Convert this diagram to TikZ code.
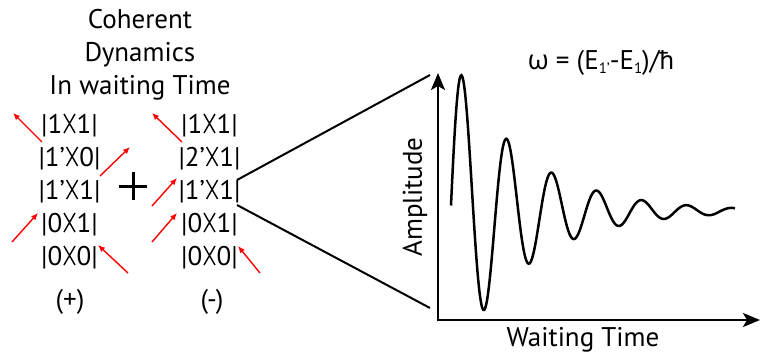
\documentclass[tikz,border=0pt]{standalone}
\usepackage{fontspec}
\setmainfont{PT Sans}
\newfontfamily\grkfont{Open Sans}
\usetikzlibrary{arrows.meta}
\newcommand\kbx{\kern1pt\tikz[x=1pt,y=1pt,baseline=0pt]\draw[line width=1.4pt] (0,19)--(5.5,9.5)--(0,0) (11,19)--(5.5,9.5)--(11,0);\kern1pt}
\newcommand\kb[2]{|#1\kbx#2|}
\begin{document}
\begin{tikzpicture}[x=1pt,y=-1pt,
  lbl/.style={font=\fontsize{27}{33}\selectfont, inner sep=0pt},
  ketrow/.style={font=\fontsize{27}{27}\selectfont, inner sep=0pt, anchor=base},
  redarrow/.style={red, line width=1.4pt, -{Latex[length=7pt,width=6pt]}},
  axis/.style={line width=2.5pt, {Stealth[length=17pt,width=14pt,inset=4pt]}-{Stealth[length=17pt,width=14pt,inset=4pt]}},
  cone/.style={line width=2pt},
  wave/.style={line width=2.5pt}]
\useasboundingbox (0,0) rectangle (761,362);

% title
\node[lbl, align=center] (title) at (140,55) {Coherent\\Dynamics\\In waiting Time};

% left column (+)
\node[ketrow] (l1) at (69.5,133) {\kb{1}{1}};
\node[ketrow] (l2) at (69.5,166) {\kb{1’}{0}};
\node[ketrow] (l3) at (69.5,199) {\kb{1’}{1}};
\node[ketrow] (l4) at (69.5,232) {\kb{0}{1}};
\node[ketrow] (l5) at (69.5,265) {\kb{0}{0}};
\node[lbl] (plus) at (70,302) {(+)};

% right column (-)
\node[ketrow] (r1) at (209.5,133) {\kb{1}{1}};
\node[ketrow] (r2) at (209.5,166) {\kb{2’}{1}};
\node[ketrow] (r3) at (209.5,199) {\kb{1’}{1}};
\node[ketrow] (r4) at (209.5,232) {\kb{0}{1}};
\node[ketrow] (r5) at (209.5,265) {\kb{0}{0}};
\node[lbl] (minus) at (212,302) {(-)};

% big plus
\draw[line width=3pt] (119,186) -- (147,186) (133,172) -- (133,200);

% red arrows, left column
\coordinate (la1s) at (42,142);  \coordinate (la1e) at (13,113);
\coordinate (la2s) at (100,176); \coordinate (la2e) at (130,147);
\coordinate (la3s) at (12,242);  \coordinate (la3e) at (38,213);
\coordinate (la4s) at (128,273); \coordinate (la4e) at (98,245);
\draw[redarrow] (la1s) -- (la1e);
\draw[redarrow] (la2s) -- (la2e);
\draw[redarrow] (la3s) -- (la3e);
\draw[redarrow] (la4s) -- (la4e);

% red arrows, right column
\coordinate (ra1s) at (182,142); \coordinate (ra1e) at (152,113);
\coordinate (ra2s) at (152,206); \coordinate (ra2e) at (177,178);
\coordinate (ra3s) at (152,242); \coordinate (ra3e) at (177,213);
\coordinate (ra4s) at (260,273); \coordinate (ra4e) at (238,246);
\draw[redarrow] (ra1s) -- (ra1e);
\draw[redarrow] (ra2s) -- (ra2e);
\draw[redarrow] (ra3s) -- (ra3e);
\draw[redarrow] (ra4s) -- (ra4e);

% cone
\coordinate (cv1) at (237,180); \coordinate (cv2) at (237,205);
\coordinate (ct) at (430,75);   \coordinate (cb) at (430,308);
\draw[cone] (cv1) -- (ct);
\draw[cone] (cv2) -- (cb);

% axes
\coordinate (O) at (438,320);
\coordinate (ytop) at (438,73);
\coordinate (xend) at (760,320);
\draw[axis] (ytop) -- (O) -- (xend);

% wave
\draw[wave] plot[domain=451:735, samples=300, smooth] (\x, {211 - 137*exp(-0.014*(\x-461))*sin(8*(\x-450.75))});

% labels
\node[lbl, rotate=90] (amp) at (415,197) {Amplitude};
\node[lbl] (wt) at (583,340) {Waiting Time};
\node[lbl] (omega) at (601,63) {{\grkfont ω} = (E\raisebox{-4pt}{\fontsize{15}{15}\selectfont 1’}-E\raisebox{-4pt}{\fontsize{15}{15}\selectfont 1})/ħ};
\end{tikzpicture}
\end{document}
